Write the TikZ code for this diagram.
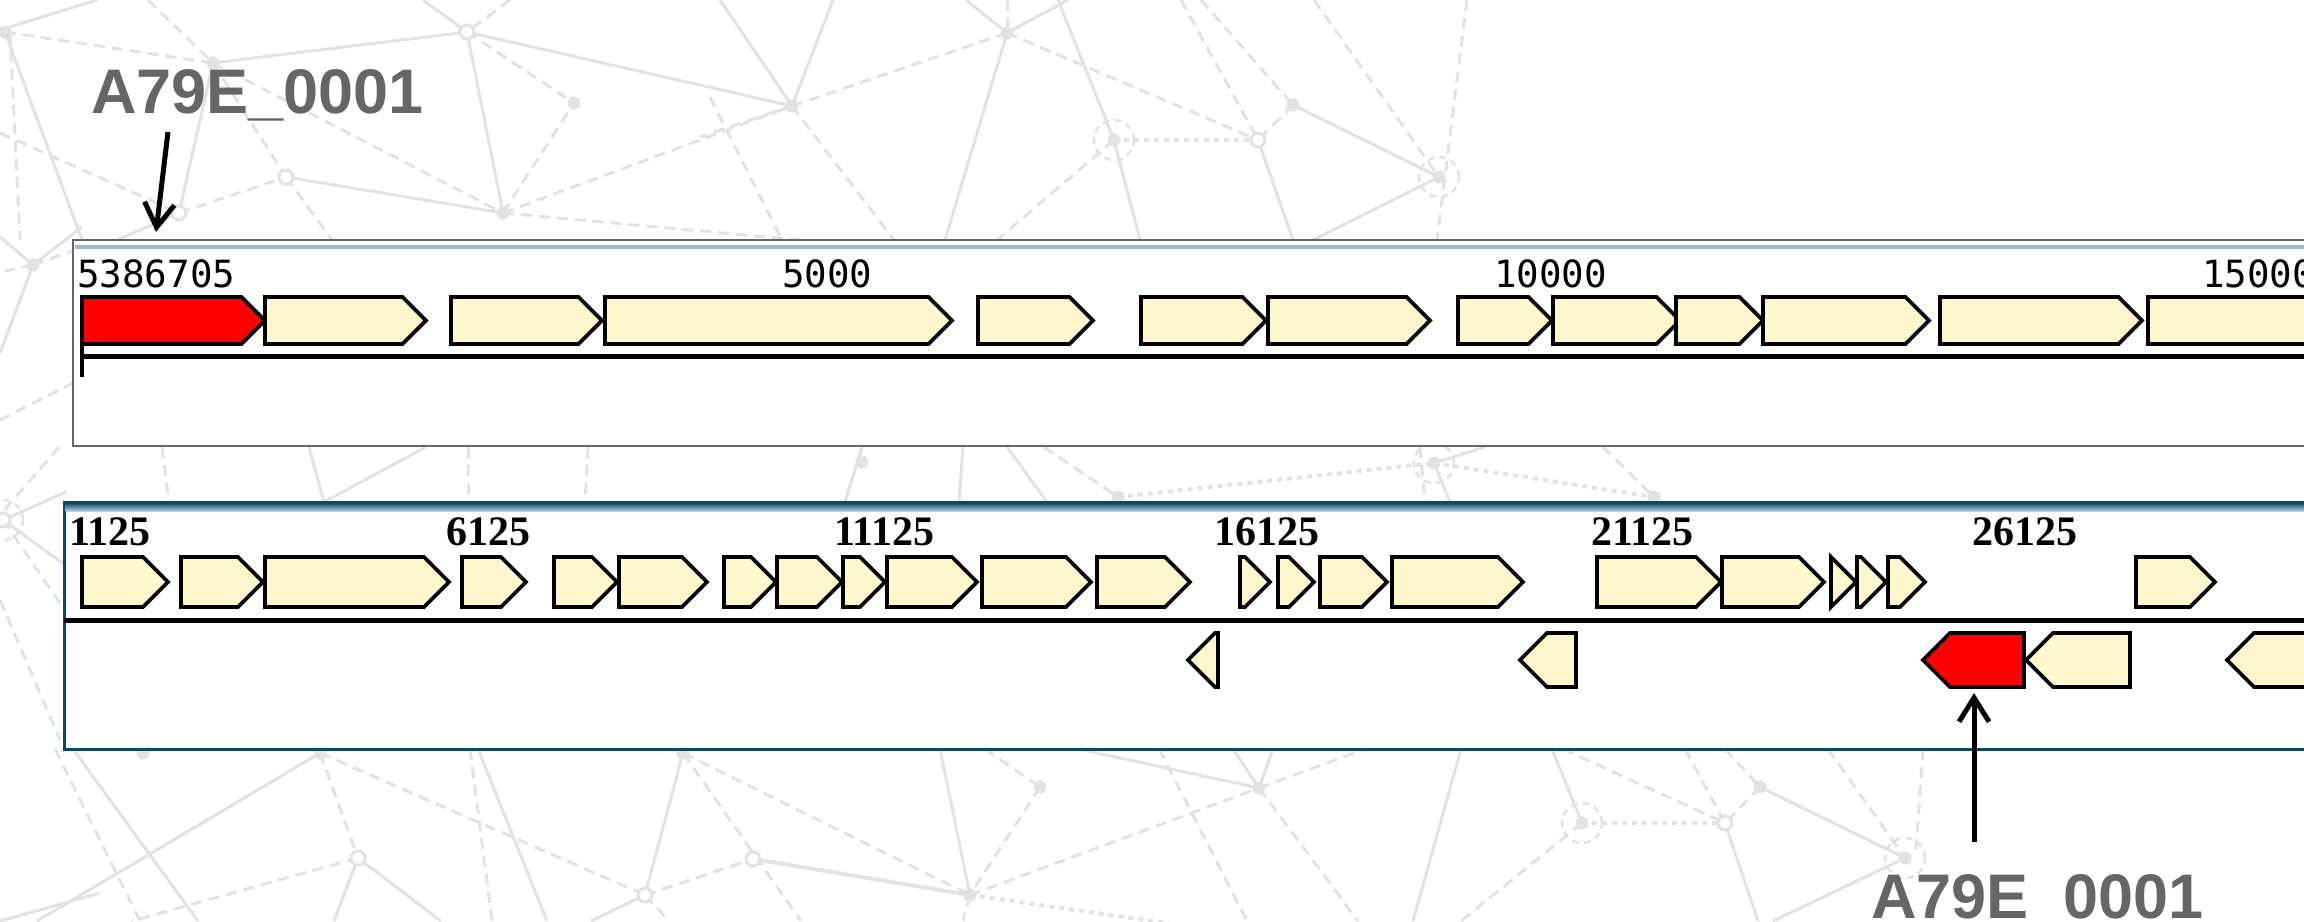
\documentclass[tikz,border=0pt]{standalone}
\usepackage{fontspec}
\setmainfont{Liberation Sans}
\newfontfamily\biglabfont{Liberation Sans}
\newfontfamily\rulermono{DejaVu Sans Mono}
\newfontfamily\rulerserif{Liberation Serif}
\usetikzlibrary{arrows.meta}
\definecolor{genefill}{HTML}{FFF8CE}
\definecolor{genered}{HTML}{FF0000}
\definecolor{bgline}{HTML}{E2E2E2}
\definecolor{labgray}{HTML}{666666}
\definecolor{tealbox}{HTML}{0E4A5C}
\definecolor{bandlight}{HTML}{B9CFEA}
\definecolor{topborder}{HTML}{666666}
\definecolor{topblue}{HTML}{A0B8D2}
\newcommand\geneR[5]{%
  \pgfmathsetmacro\gl{min(#4,#2-#1)}%
  \draw[genestyle,fill=#5] (#1,{#3-#4}) -- ({#2-\gl},{#3-#4}) -- (#2,#3) -- ({#2-\gl},{#3+#4}) -- (#1,{#3+#4}) -- cycle;}
\newcommand\geneL[5]{%
  \pgfmathsetmacro\gl{min(#4,#2-#1)}%
  \draw[genestyle,fill=#5] (#2,{#3-#4}) -- ({#1+\gl},{#3-#4}) -- (#1,#3) -- ({#1+\gl},{#3+#4}) -- (#2,{#3+#4}) -- cycle;}
\begin{document}
\begin{tikzpicture}[x=1pt,y=-1pt,
  bgs/.style={draw=bgline,line width=3pt},
  bgd/.style={draw=bgline,line width=3pt,dash pattern=on 11pt off 7pt},
  bgt/.style={draw=bgline,line width=4pt,dash pattern=on 5pt off 5pt},
  bgcirc/.style={draw=bgline,line width=2.5pt,dash pattern=on 7pt off 5pt},
  genestyle/.style={draw=black,line width=3.6pt,line join=miter},
  toplab/.style={font=\rulermono\fontsize{37.5}{40}\selectfont,anchor=base west,inner sep=0pt,text=black},
  botlab/.style={font=\rulerserif\bfseries\fontsize{42}{46}\selectfont,anchor=base west,inner sep=0pt,text=black},
  biglab/.style={font=\biglabfont\bfseries\fontsize{63}{70}\selectfont,anchor=base west,inner sep=0pt,text=labgray},
  callout/.style={line width=5pt,-{Straight Barb[length=24pt,width=30pt,line width=5pt]}},
]
\useasboundingbox (0,0) rectangle (2304,921);
\clip (0,0) rectangle (2304,921);
\fill[white] (0,0) rectangle (2304,921);

% ---------------- background network ----------------
% top-left
\draw[bgs] (0,30) -- (97,0);
\draw[bgd] (5,32) -- (213,63);
\draw[bgs] (213,63) -- (467,32);
\draw[bgs] (5,32) -- (82,240);
\draw[bgd] (10,33) -- (20,240);
\draw[bgs] (467,32) -- (792,106);
\draw[bgs] (467,32) -- (503,213);
\draw[bgd] (467,32) -- (574,103);
\draw[bgs] (423,0) -- (467,32);
\draw[bgd] (510,0) -- (467,32);
\draw[bgd] (148,0) -- (213,63);
\draw[bgs] (286,177) -- (503,213);
\draw[bgd] (213,63) -- (286,177);
\draw[bgd] (213,63) -- (503,213);
\draw[bgs] (213,63) -- (179,213);
\draw[bgd] (179,213) -- (286,177);
\draw[bgs] (179,213) -- (117,240);
\draw[bgd] (286,177) -- (332,240);
\draw[bgd] (503,213) -- (574,103);
\draw[bgd] (503,213) -- (792,106);
\draw[bgd] (503,213) -- (800,240);
\draw[bgd] (0,133) -- (179,213);
\draw[bgs] (0,237) -- (33,265);
\draw[bgs] (33,265) -- (82,227);
\draw[bgd] (33,265) -- (0,272);
\draw[bgd] (33,265) -- (75,250);
\draw[bgs] (33,265) -- (0,353);
\draw[bgd] (0,420) -- (75,382);
\draw[bgs] (3,520) -- (66,492);
\draw[bgs] (3,520) -- (100,590);
\draw[bgd] (3,520) -- (100,662);
\draw[bgd] (0,600) -- (60,740);
% top-right
\draw[bgs] (720,0) -- (792,106);
\draw[bgs] (833,0) -- (792,106);
\draw[bgd] (792,106) -- (1007,33);
\draw[bgs] (966,0) -- (1007,33);
\draw[bgs] (1068,0) -- (1007,33);
\draw[bgd] (1007,0) -- (1007,33);
\draw[bgs] (1007,33) -- (945,240);
\draw[bgd] (1007,33) -- (1258,140);
\draw[bgs] (1058,0) -- (1114,140) -- (1140,240);
\draw[bgd] (1181,0) -- (1258,140);
\draw[bgd] (1201,0) -- (1293,105);
\draw[bgd] (1314,0) -- (1439,177);
\draw[bgd] (1467,0) -- (1437,240);
\draw[bgs] (1293,105) -- (1439,177);
\draw[bgd] (1293,105) -- (1258,140);
\draw[bgs] (1258,140) -- (1293,240);
\draw[bgt] (1114,140) -- (1258,140);
\draw[bgs] (1439,177) -- (1313,240);
\draw[bgd] (792,106) -- (700,137);
\draw[bgd] (792,106) -- (894,240);
\draw[bgd] (710,97) -- (782,240);
\draw[bgd] (1114,140) -- (997,240);
% gap between boxes
\draw[bgd] (59,447) -- (0,515);
\draw[bgd] (162,447) -- (169,502);
\draw[bgs] (309,447) -- (324,502);
\draw[bgs] (426,447) -- (324,502);
\draw[bgd] (468,447) -- (468,502);
\draw[bgd] (588,447) -- (585,502);
\draw[bgs] (862,447) -- (845,502);
\draw[bgs] (963,447) -- (959,502);
\draw[bgs] (1007,447) -- (1047,502);
\draw[bgd] (1044,447) -- (1118,497);
\draw[bgt] (1118,497) -- (1434,463);
\draw[bgs] (1485,447) -- (1434,463);
\draw[bgs] (1434,463) -- (1450,502);
\draw[bgd] (1420,447) -- (1425,502);
\draw[bgt] (1434,463) -- (1654,497);
\draw[bgd] (1603,447) -- (1654,497);
% bottom
\draw[bgd] (55,749) -- (140,921);
\draw[bgs] (73,749) -- (198,921);
\draw[bgs] (37,921) -- (320,753);
\draw[bgs] (0,921) -- (100,893);
\draw[bgd] (320,753) -- (358,858);
\draw[bgd] (320,753) -- (645,895);
\draw[bgd] (358,858) -- (132,921);
\draw[bgs] (358,858) -- (334,921);
\draw[bgs] (358,858) -- (441,921);
\draw[bgd] (470,749) -- (492,921);
\draw[bgs] (478,749) -- (547,921);
\draw[bgs] (683,753) -- (645,895);
\draw[bgd] (683,753) -- (801,921);
\draw[bgd] (683,753) -- (970,895);
\draw[bgd] (645,895) -- (753,859);
\draw[bgs] (645,895) -- (591,921);
\draw[bgd] (645,895) -- (669,921);
\draw[bgs,line width=4pt] (753,859) -- (970,895);
\draw[bgs] (940,749) -- (970,895);
\draw[bgd] (985,749) -- (1040,787);
\draw[bgd] (1040,787) -- (970,895);
\draw[bgd] (970,895) -- (1259,788);
\draw[bgt] (970,895) -- (1250,935);
\draw[bgd] (970,895) -- (963,921);
\draw[bgs] (1060,745) -- (1259,788);
\draw[bgs] (1233,749) -- (1259,788);
\draw[bgs] (1273,749) -- (1259,788);
\draw[bgd] (1259,788) -- (1365,749);
\draw[bgd] (1259,788) -- (1358,921);
\draw[bgd] (1159,749) -- (1247,921);
\draw[bgs] (1461,749) -- (1413,921);
\draw[bgs] (1552,749) -- (1582,823);
\draw[bgt] (1582,823) -- (1725,823);
\draw[bgd] (1582,823) -- (1461,921);
\draw[bgd] (1563,749) -- (1725,823);
\draw[bgd] (1685,749) -- (1725,823);
\draw[bgd] (1725,749) -- (1760,787);
\draw[bgd] (1760,787) -- (1725,823);
\draw[bgs] (1725,823) -- (1758,921);
\draw[bgs] (1760,787) -- (1905,858);
\draw[bgd] (1828,749) -- (1905,858);
\draw[bgd] (1923,749) -- (1916,850);
\draw[bgs] (1905,858) -- (1773,921);
% markers
\foreach \p in {(5,32),(213,63),(574,103),(792,106),(503,213),(33,265),(1007,33),(1293,105),(1114,140),(1439,177),(862,462),(1118,497),(1434,463),(1654,497),(320,753),(683,753),(970,895),(1040,787),(143,753),(1259,788),(1582,823),(1760,787),(1905,858)}
  \fill[bgline] \p circle[radius=6.5pt];
\foreach \p in {(467,32),(286,177),(179,213),(1258,140),(3,520),(358,858),(645,895),(753,859),(1725,823)}
  \draw[bgline,line width=3pt,fill=white] \p circle[radius=7pt];
\foreach \p in {(1114,140),(1439,177),(1434,463),(1582,823),(1905,858),(3,520)}
  \draw[bgcirc] \p circle[radius=20pt];

% ---------------- top box ----------------
\draw[fill=white,draw=topborder,line width=2.5pt] (73,240) rectangle (2330,446);
\draw[topblue,line width=3.5pt] (75,247) -- (2330,247);
\node[toplab] (t0) at (77,287) {5386705};
\node[toplab] (t1) at (782,287) {5000};
\node[toplab] (t2) at (1494,287) {10000};
\node[toplab] (t3) at (2202,287) {15000};
\draw[line width=5pt] (82,356) -- (2330,356);
\draw[line width=3.5pt] (82,343) -- (82,377);
\geneR{82}{265}{320.5}{23.5}{genered}
\foreach \a/\b in {265/426,451/602,605/952,978/1093,1141/1266,1268/1430,1458/1552,1553/1680,1676/1763,1763/1929,1940/2142,2148/2380}
  {\geneR{\a}{\b}{320.5}{23.5}{genefill}}
\coordinate (red1) at (156,232);

% ---------------- bottom box ----------------
\draw[fill=white,draw=tealbox,line width=3pt] (64,502) rectangle (2330,749);
\shade[top color=tealbox,bottom color=bandlight] (65.5,503) rectangle (2330,511);
\node[botlab] (b0) at (69,545) {1125};
\node[botlab] (b1) at (446,545) {6125};
\node[botlab] (b2) at (834,545) {11125};
\node[botlab] (b3) at (1214,545) {16125};
\node[botlab] (b4) at (1591,545) {21125};
\node[botlab] (b5) at (1972,545) {26125};
\draw[line width=5pt] (64,620) -- (2330,620);
\foreach \a/\b in {82/168,181/263,265/449,462/526,554/617,619/707,724/776,777/842,843/885,887/977,982/1091,1097/1190,1240/1270,1278/1314,1320/1387,1392/1523,1597/1721,1722/1824,1831/1856,1857/1886,1888/1925,2136/2215}
  {\geneR{\a}{\b}{582}{25}{genefill}}
\foreach \a/\b in {1188/1218,1520/1576,2026/2130,2227/2400}
  {\geneL{\a}{\b}{660}{27}{genefill}}
\geneL{1923}{2024}{660}{27}{genered}
\coordinate (red2) at (1974,693);

% ---------------- labels and arrows ----------------
\node[biglab] (lab1) at (91,113) {A79E\_0001};
\node[biglab] (lab2) at (1871,918) {A79E\_0001};
\coordinate (lab1foot) at (168,132);
\coordinate (lab2head) at (1974,842);
\draw[callout] (lab1foot) -- (red1);
\draw[callout] (lab2head) -- (red2);
\end{tikzpicture}
\end{document}
